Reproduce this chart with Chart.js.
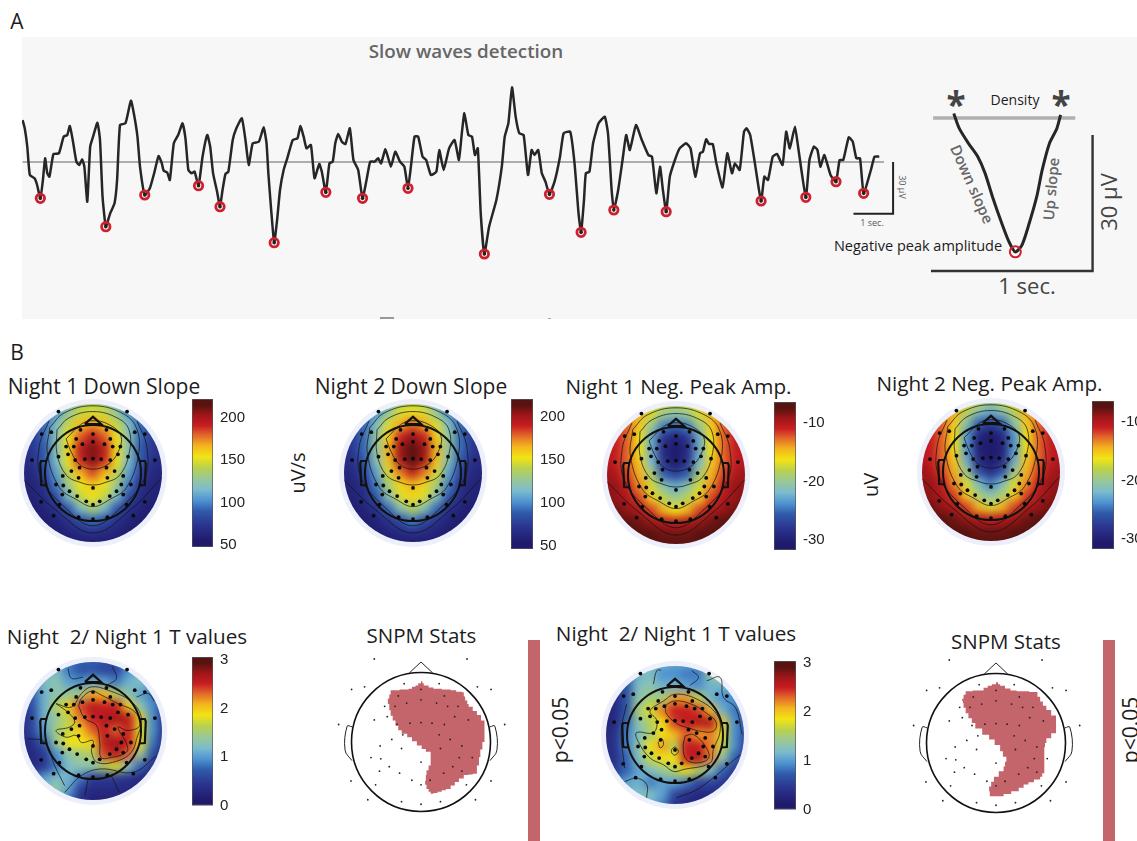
<!DOCTYPE html>
<html>
<head>
<meta charset="utf-8">
<title>Slow waves</title>
<script src="https://cdn.jsdelivr.net/npm/chart.js@4"></script>
<style>
  html, body { margin: 0; padding: 0; background: #fff; }
  body { position: relative; width: 1137px; height: 841px; overflow: hidden; }
  canvas { position: absolute; display: block; }
  .t { position: absolute; white-space: pre; line-height: 1; font-family: "Open Sans", sans-serif; color: #1c1c1c; transform: translate(-50%, -50%); }
  .round { position: absolute; border-radius: 50%; overflow: hidden; }
</style>
</head>
<body>
<div style="position:absolute;left:22px;top:37px;width:1115px;height:282px;background:#f7f7f7"></div>
<div style="position:absolute;left:380px;top:317px;width:14px;height:2px;background:#999"></div>
<div style="position:absolute;left:548px;top:318px;width:3px;height:1px;background:#aaa"></div>

<div class="t" style="left:17px;top:21px;font-size:21px">A</div>
<div class="t" style="left:17px;top:352px;font-size:21px">B</div>
<div class="t" style="left:466px;top:51px;font-size:18.8px;font-weight:600;color:#666">Slow waves detection</div>
<div class="t" style="left:1015px;top:100px;font-size:14px">Density</div>
<div class="t" style="left:918px;top:246px;font-size:14.5px">Negative peak amplitude</div>
<div class="t" style="left:956px;top:103px;font-size:35px;font-weight:700;color:#444">*</div>
<div class="t" style="left:1061px;top:103px;font-size:35px;font-weight:700;color:#444">*</div>
<div class="t" style="left:972px;top:184px;font-size:15px;font-weight:600;color:#666;transform:translate(-50%,-50%) rotate(66deg)">Down slope</div>
<div class="t" style="left:1051px;top:189px;font-size:15px;font-weight:600;color:#666;transform:translate(-50%,-50%) rotate(-85deg)">Up slope</div>
<div class="t" style="left:1108px;top:202px;font-size:22px;color:#444;transform:translate(-50%,-50%) rotate(-90deg)">30 µV</div>
<div class="t" style="left:1027px;top:285px;font-size:22px;color:#444">1 sec.</div>
<div class="t" style="left:872px;top:222px;font-size:9px;color:#555">1 sec.</div>
<div class="t" style="left:902px;top:187px;font-size:9px;color:#555;transform:translate(-50%,-50%) rotate(90deg)">30 µV</div>

<div class="t" style="left:104px;top:386px;font-size:21px">Night 1 Down Slope</div>
<div class="t" style="left:411px;top:386px;font-size:21px">Night 2 Down Slope</div>
<div class="t" style="left:678.5px;top:386px;font-size:20.7px">Night 1 Neg. Peak Amp.</div>
<div class="t" style="left:989.5px;top:383px;font-size:20.7px">Night 2 Neg. Peak Amp.</div>
<div class="t" style="left:127px;top:636px;font-size:20.7px">Night  2/ Night 1 T values</div>
<div class="t" style="left:421.5px;top:635px;font-size:20.5px">SNPM Stats</div>
<div class="t" style="left:676px;top:633px;font-size:20.7px">Night  2/ Night 1 T values</div>
<div class="t" style="left:1006px;top:641px;font-size:20.5px">SNPM Stats</div>
<div class="t" style="left:298px;top:473px;font-size:20px;transform:translate(-50%,-50%) rotate(-90deg)">uV/s</div>
<div class="t" style="left:871px;top:485px;font-size:20px;transform:translate(-50%,-50%) rotate(-90deg)">uV</div>
<div class="t" style="left:560px;top:730px;font-size:21px;transform:translate(-50%,-50%) rotate(-90deg)">p&lt;0.05</div>
<div class="t" style="left:1130px;top:730px;font-size:21px;transform:translate(-50%,-50%) rotate(-90deg)">p&lt;0.05</div>

<script>
// EEG trace: samples (99 per second) and amplitude in uV
const eegTimes = [62,68,75,82,95,102,111,118,124,130,136,147,162,175,185,192,200,210,218,226,232,240,248,256,268,275,282,291,303,315,322,330,345,360,368,378,385,398,412,425,436,445,450,460,467,478,490,502,510,518,527,535,546,557,570,578,586,597,605,612,620,628,640,650,665,675,684,695,712,725,733,738,745,754,762,770,780,790,805,818,826,835,843,855,865,878,885,896,906,915,922,930,940,950,962,972,985,997,1008,1018,1030,1040,1048,1060,1075,1087,1100,1112,1122,1130,1140,1150,1162,1172,1185,1200,1208,1220,1235,1250,1262,1270,1277,1288,1298,1306,1314,1322,1332,1345,1365,1380,1388,1398,1408,1418,1428,1440,1452,1462,1470,1480,1490,1500,1511,1525,1540,1550,1568,1580,1591,1598,1606,1611,1621,1631,1646,1663,1672,1682,1688,1700,1712,1722,1732,1749,1765,1783,1793,1805,1815,1823,1832,1842,1856,1869,1887,1899,1912,1925,1933,1942,1950,1960,1970,1987,2000,2013,2021,2034,2046,2053,2063,2076,2093,2102,2112,2125,2137,2152,2162,2172,2186,2196,2216,2226,2238,2248,2256,2267,2284,2299,2309,2319,2334,2345,2355,2365,2375,2395,2405,2418];
const eegAmps = [25.2,20.2,9.2,-7.8,-9.8,-13.8,-21.8,-10.8,2.2,-6.8,-8.8,4.8,5.2,15.2,16.2,21.6,13.2,0.2,-1.8,1.6,-2.8,-23.8,9.2,15.2,23.6,13.2,-20.8,-38.8,-30.8,-24.8,-10.8,22.2,23.2,36.8,29.2,15.2,-2.8,-19.8,-15.8,-5.8,3.6,-0.8,-5.2,-6.4,-10.8,11.2,16.2,23.2,14.2,-4.8,-6.8,-5.8,-14.2,3.2,16.2,9.2,-6.8,-17.8,-26.8,-16.8,-7.2,-5.8,13.2,20.2,26.2,13.2,-1.8,11.2,12.2,20.8,11.2,-6.8,-26.8,-48.4,-34.8,-16.8,-4.8,2.2,13.2,14.2,21.6,15.2,8.2,10.2,-9.8,-1.2,-5.8,-18.2,-0.8,0.2,11.2,16.8,12.2,10.8,20.2,1.2,-4.8,-21.8,-10.8,0.2,0.2,2.2,-0.8,7.6,-2.8,6.2,0.2,-2.8,-15.8,-2.8,15.2,15.2,3.2,1.2,-7.8,-5.8,7.2,-4.8,8.2,13.2,1.2,17.2,29.2,16.2,15.2,4.2,8.2,-30.8,-55.2,-38.8,-22.8,-2.8,15.2,23.2,44.8,27.2,17.2,16.2,-7.8,7.2,4.2,7.2,-6.8,-11.8,-19.4,-11.8,3.2,17.2,18.2,-0.8,-30.8,-42.2,-22.8,-6.8,-5.8,11.2,23.2,27.2,17.2,-16.8,-28.8,-16.8,1.2,16.2,7.2,22.2,13.2,4.2,3.2,-18.8,-2.8,-16.8,-29.8,-8.8,1.2,8.2,11.2,8.2,-8.8,5.2,6.2,13.6,10.8,10.8,-0.8,-15.2,5.2,-6.8,-0.8,-4.8,18.2,20.2,16.2,-0.8,-23.4,-8.8,-10.8,3.2,4.8,-1.8,18.2,8.2,21.2,7.2,-21.2,1.2,9.2,7.2,-2.8,4.2,-7.8,-11.8,1.2,1.2,14.8,12.2,2.2,2.2,-18.8,-4.8,3.2,3.2];
const peakTimes = [111,291,398,546,605,754,896,997,1122,1332,1511,1598,1688,1832,2093,2216,2299,2375];
const peakAmps = [-21.8,-38.8,-19.8,-14.2,-26.8,-48.4,-18.2,-21.8,-15.8,-55.2,-19.4,-42.2,-28.8,-29.8,-23.4,-21.2,-11.8,-18.8];

// single averaged wave on the right: seconds and uV
const waveSec = [0.178,0.212,0.269,0.326,0.372,0.418,0.475,0.520,0.559,0.600,0.645,0.691,0.725,0.770,0.816,0.839];
const waveUv = [1.0,-2.3,-5.6,-8.5,-12.2,-17.4,-23.2,-27.3,-29.5,-28.0,-23.2,-17.4,-11.5,-5.6,-2.3,0.7];

// colour scale
const jetStops = [[0,"#1f1a6b"],[0.12,"#2b3590"],[0.22,"#2f5bab"],[0.3,"#4f94d2"],[0.38,"#7cbccd"],[0.46,"#99c896"],[0.54,"#b9d14e"],[0.62,"#f2e414"],[0.7,"#f3b41e"],[0.78,"#e2652a"],[0.85,"#c71d22"],[0.93,"#9c1518"],[1,"#561310"]];

// scalp grid, percent of head radius
const gridX = [-150,-125,-100,-75,-50,-25,0,25,50,75,100,125,150];
const gridY = [150,125,100,75,50,25,0,-25,-50,-75,-100,-125,-150];

const night1Down = [
  [60,60,70,85,110,130,135,130,110,85,70,60,60],
  [60,65,80,100,125,145,150,145,125,100,80,65,60],
  [60,70,90,115,145,165,175,165,145,115,90,70,60],
  [60,70,90,120,155,185,200,185,155,120,90,70,60],
  [60,70,85,120,160,200,215,200,160,120,85,70,60],
  [60,65,85,115,155,195,215,195,155,115,85,65,60],
  [55,60,75,105,145,170,190,170,145,105,75,60,55],
  [55,55,65,95,130,155,165,155,130,95,65,55,55],
  [50,55,60,80,115,145,155,145,115,80,60,55,50],
  [50,50,55,65,85,115,135,115,85,65,55,50,50],
  [50,50,50,55,65,80,90,80,65,55,50,50,50],
  [50,50,50,50,55,60,65,60,55,50,50,50,50],
  [50,50,50,50,50,50,50,50,50,50,50,50,50]
];
const night2Down = [
  [60,60,70,85,110,130,140,130,110,85,70,60,60],
  [60,65,80,100,125,150,155,150,125,100,80,65,60],
  [60,70,90,115,150,170,185,170,150,115,90,70,60],
  [60,70,90,125,160,195,210,195,160,125,90,70,60],
  [60,70,90,125,170,210,222,210,170,125,90,70,60],
  [60,65,85,120,165,205,222,205,165,120,85,65,60],
  [55,60,75,105,150,180,200,180,150,105,75,60,55],
  [55,55,65,95,135,160,170,160,135,95,65,55,55],
  [50,55,60,85,120,150,160,150,120,85,60,55,50],
  [50,50,55,65,90,120,140,120,90,65,55,50,50],
  [50,50,50,55,65,80,95,80,65,55,50,50,50],
  [50,50,50,50,55,60,65,60,55,50,50,50,50],
  [50,50,50,50,50,50,50,50,50,50,50,50,50]
];
const night1Neg = [
  [-9,-9,-11,-13,-15,-17,-18,-17,-15,-13,-11,-9,-9],
  [-9,-10,-12,-14,-17,-20,-21,-20,-17,-14,-12,-10,-9],
  [-9,-10,-12,-15,-20,-25,-26,-25,-20,-15,-12,-10,-9],
  [-9,-10,-12,-16,-23,-29,-31,-29,-23,-16,-12,-10,-9],
  [-9,-10,-12,-16,-23,-30,-32,-30,-23,-16,-12,-10,-9],
  [-9,-10,-12,-15,-22,-29,-32,-29,-22,-15,-12,-10,-9],
  [-8,-9,-11,-14,-19,-26,-28,-26,-19,-14,-11,-9,-8],
  [-8,-8,-10,-13,-17,-21,-23,-21,-17,-13,-10,-8,-8],
  [-7,-8,-9,-11,-15,-18,-20,-18,-15,-11,-9,-8,-7],
  [-7,-7,-8,-9,-11,-14,-16,-14,-11,-9,-8,-7,-7],
  [-6,-6,-6,-7,-8,-9,-10,-9,-8,-7,-6,-6,-6],
  [-6,-6,-6,-6,-6,-7,-7,-7,-6,-6,-6,-6,-6],
  [-6,-6,-6,-6,-6,-6,-6,-6,-6,-6,-6,-6,-6]
];
const night2Neg = [
  [-9,-9,-11,-13,-15,-17,-19,-17,-15,-13,-11,-9,-9],
  [-9,-10,-12,-14,-18,-21,-23,-21,-18,-14,-12,-10,-9],
  [-9,-10,-12,-15,-21,-26,-28,-26,-21,-15,-12,-10,-9],
  [-9,-10,-12,-16,-24,-30,-32,-30,-24,-16,-12,-10,-9],
  [-9,-10,-12,-16,-24,-31,-33,-31,-24,-16,-12,-10,-9],
  [-9,-10,-12,-15,-23,-30,-33,-30,-23,-15,-12,-10,-9],
  [-8,-9,-11,-14,-20,-27,-30,-27,-20,-14,-11,-9,-8],
  [-8,-8,-10,-13,-17,-22,-25,-22,-17,-13,-10,-8,-8],
  [-7,-8,-9,-11,-15,-19,-21,-19,-15,-11,-9,-8,-7],
  [-7,-7,-8,-9,-11,-14,-17,-14,-11,-9,-8,-7,-7],
  [-6,-6,-6,-7,-8,-9,-10,-9,-8,-7,-6,-6,-6],
  [-6,-6,-6,-6,-6,-7,-7,-7,-6,-6,-6,-6,-6],
  [-6,-6,-6,-6,-6,-6,-6,-6,-6,-6,-6,-6,-6]
];
const tValuesA = [
  [0.6,0.6,0.7,1,0.8,0.7,0.7,0.6,0.6,0.8,1,0.9,0.7],
  [0.5,0.6,1,1.2,0.8,0.6,0.6,0.5,0.5,0.9,1.2,1.1,0.7],
  [0.4,0.8,1.2,1.3,1,0.9,1.1,1,0.8,1.1,1.2,1,0.6],
  [0.2,0.7,1.1,1.3,1.4,1.5,2.2,2.1,1.6,1.3,1,0.8,0.4],
  [0.2,0.6,1.1,1.6,2,2.5,2.7,2.6,2.6,2,1.3,0.9,0.3],
  [0.2,0.5,1.1,1.4,1.7,2.3,2.6,2.7,2.8,2.7,2,0.9,0.3],
  [0.2,0.5,1,1.5,1.7,2,2.4,2.6,2.4,2.6,1.8,0.9,0.3],
  [0.1,0.3,0.7,1.4,1.9,1.9,2,2.7,2.8,2.6,1.9,0.8,0.2],
  [0.1,0.2,0.4,0.9,1.3,1.5,1.6,2.5,2.7,2.4,1.4,0.6,0.1],
  [0.1,0.2,0.4,0.8,1.2,1.3,1.3,1.6,1.8,1.2,0.7,0.3,0.1],
  [0.1,0.6,1,1.2,1.1,0.8,0.4,0.4,0.4,0.3,0.2,0.1,0.1],
  [0.1,0.5,1.2,1.4,1,0.4,0.2,0.2,0.2,0.2,0.1,0.1,0.1],
  [0.1,0.3,0.9,1.1,0.7,0.3,0.1,0.1,0.1,0.1,0.1,0.1,0.1]
];
const tValuesB = [
  [0.2,0.5,0.8,1.1,1.2,1.1,1,1,0.9,1.4,1.6,1.3,0.9],
  [0.1,0.4,0.7,1.1,1.2,0.9,0.9,0.8,0.8,1.3,1.6,1.3,1],
  [0.1,0.2,0.6,1.2,1.3,1.1,1.1,1,0.9,1.1,1.1,1,0.8],
  [0.1,0.2,0.6,1.3,1.5,1.5,2.2,2.2,1.7,1.1,0.9,0.9,0.7],
  [0.1,0.2,0.6,1.5,1.8,2.3,2.6,2.6,2.5,2.1,1.1,0.8,0.6],
  [0.1,0.2,0.7,1.3,1.6,1.9,2.5,2.6,2.7,2.7,2,0.9,0.6],
  [0.2,0.3,0.8,1.2,1.5,1.9,2.1,2.4,2.2,2.3,1.8,0.9,0.5],
  [0.2,0.3,0.8,1.3,1.9,2.2,1.6,2.6,2.6,2.3,1.7,0.9,0.4],
  [0.2,0.3,0.7,1.2,1.7,1.9,1.9,2.6,2.7,2.3,1.3,0.7,0.3],
  [0.3,0.4,0.7,1,1.2,1.4,1.6,1.9,1.6,1.2,0.7,0.4,0.2],
  [0.4,0.7,1,1.1,0.8,1,1,0.8,0.5,0.5,0.4,0.2,0.1],
  [0.4,0.8,1.1,1.2,1.2,1,0.5,0.3,0.2,0.2,0.2,0.1,0.1],
  [0.4,0.7,1,1.2,1.1,0.8,0.3,0.2,0.1,0.1,0.1,0.1,0.1]
];

// electrode layout, percent of head radius
const electrodeX = [-72,71,-107,-87,87,108,-127,129,-26,0,28,-35,36,0,-22,24,-40,41,-56,57,-52,52,-72,73,-17,0,17,-37,36,-28,28,-45,45,-63,63,-30,30,0,-77,-62,59,79,-49,49,-64,63,-33,35,-14,14,0,-108,108,-70,70,-82,84,-30,30,0];
const electrodeY = [128,128,81,85,85,81,27,27,90,81,90,71,71,65,60,60,55,55,55,55,39,39,34,34,29,30,29,27,27,11,11,4,4,-6,-6,-10,-10,-31,-24,-26,-24,-24,-38,-38,-45,-45,-48,-48,-59,-59,-66,-60,-60,-66,-66,-89,-89,-92,-92,-96];

// contour lines [x, y]
const frontContours = [
  [[-56,71],[-24,102],[0,109],[31,102],[58,78],[52,43],[31,18],[0,8],[-28,18],[-45,43],[-56,71]],
  [[-75,90],[-50,115],[0,128],[50,115],[75,90],[75,40],[55,-5],[25,-20],[0,-25],[-25,-20],[-55,-5],[-75,40],[-75,90]],
  [[-90,95],[-60,125],[0,140],[60,125],[90,95],[95,40],[70,-30],[35,-55],[0,-70],[-35,-55],[-70,-30],[-95,40],[-90,95]],
  [[-92,108],[-112,55],[-108,-10],[-60,-70],[0,-110],[60,-70],[108,-10],[112,55],[92,108]],
  [[-143,-15],[-80,-75],[0,-125],[80,-75],[143,-10]]
];
const tContoursA = [
  [[-30,52],[-24,68],[-3,83],[17,75],[52,57],[87,40],[98,12],[73,1],[52,8],[70,-27],[70,-44],[38,-55],[17,-55],[14,-23],[7,12],[-17,26],[-30,52]],
  [[-77,57],[-45,50],[-24,78],[-3,92],[31,85],[80,61],[101,26],[91,-16],[80,-44],[52,-62],[10,-66],[-3,-44],[0,-20],[-24,-24],[-35,-9],[-56,-13],[-77,1],[-49,8],[-38,19],[-49,36],[-77,57]],
  [[-52,130],[-45,110],[-21,112]],
  [[40,134],[49,110],[31,96]],
  [[91,71],[115,78],[128,62]],
  [[-136,-16],[-101,-23],[-80,-72],[-59,-114]],
  [[-59,-128],[-24,-93],[17,-79],[84,-86],[132,-52]],
  [[-10,-100],[-17,-135]],
  [[38,-93],[55,-128]]
];
const tContoursB = [
  [[-21,61],[0,71],[35,64],[66,45],[86,26],[80,8],[52,8],[28,15],[7,22],[-17,43],[-21,61]],
  [[21,-2],[38,1],[63,-23],[70,-48],[45,-58],[24,-51],[17,-27],[21,-2]],
  [[-24,71],[0,85],[45,75],[87,43],[94,8],[80,-30],[73,-58],[17,-72],[-3,-76],[-24,-62],[-52,-48],[-77,-13],[-80,5],[-45,5],[-38,30],[-52,50],[-24,71]],
  [[-35,-16],[-28,-7],[-24,-20],[-31,-27],[-35,-16]],
  [[-7,-30],[0,-25],[7,-34],[0,-42],[-7,-37],[-7,-30]],
  [[-45,106],[-38,134],[-29,135]],
  [[35,134],[49,120],[31,103]],
  [[66,113],[94,120],[101,78],[126,57],[140,1]],
  [[-101,64],[-112,8],[-105,-69]],
  [[-105,-97],[-80,-90],[-59,-103],[-59,-131]],
  [[3,-131],[52,-110],[136,-41]]
];

// significant clusters
const clusterA = [[0,88],[2,85],[4,82],[11,79],[18,77],[30,76],[43,75],[51,73],[59,72],[62,66],[64,60],[67,55],[69,51],[75,45],[81,39],[87,31],[92,23],[92,12],[92,0],[89,-11],[86,-22],[84,-34],[81,-46],[75,-47],[69,-48],[62,-53],[55,-58],[49,-63],[43,-68],[36,-70],[30,-72],[24,-74],[18,-75],[14,-72],[11,-68],[8,-62],[6,-56],[7,-48],[8,-41],[11,-34],[14,-27],[14,-20],[14,-14],[7,-10],[1,-5],[-6,1],[-13,7],[-20,12],[-28,17],[-33,24],[-37,31],[-41,38],[-44,46],[-46,55],[-48,63],[-46,69],[-44,75],[-31,76],[-18,77],[-13,80],[-8,82],[-4,85],[0,88]];
const clusterB = [[0,88],[3,85],[6,83],[13,79],[21,76],[30,75],[40,75],[48,74],[57,74],[60,67],[64,60],[68,54],[73,48],[80,40],[87,33],[87,23],[87,14],[80,7],[73,0],[71,-6],[70,-12],[70,-22],[70,-33],[70,-44],[67,-49],[64,-53],[55,-57],[47,-60],[40,-65],[33,-70],[22,-74],[11,-77],[2,-77],[-7,-77],[-9,-70],[-10,-63],[-7,-56],[-3,-49],[4,-41],[11,-34],[13,-27],[15,-20],[10,-12],[6,-3],[-2,5],[-10,12],[-20,21],[-30,29],[-35,36],[-40,43],[-44,51],[-47,58],[-48,61],[-49,64],[-47,70],[-44,75],[-34,76],[-23,76],[-18,80],[-12,83],[-6,85],[0,88]];

// head outline pieces
const noseLine = [[-17,102],[0,117],[17,102],[-17,102]];
const earLeft = [[-96,25],[-108,25],[-110,20],[-108,-25],[-96,-26]];
const earRight = [[96,25],[108,25],[110,20],[108,-25],[96,-26]];
const noseThin = [[-17,100],[0,116],[17,100]];
const earThinLeft = [[-100,22],[-107,23],[-110,-12],[-100,-27]];
const earThinRight = [[100,22],[107,23],[110,-12],[100,-27]];

const baseOptions = {
  responsive: false,
  animation: false,
  devicePixelRatio: 1,
  events: [],
  layout: { autoPadding: false },
  plugins: { legend: { display: false }, tooltip: { enabled: false } }
};

function addCanvas(left, top, w, h, parent) {
  const c = document.createElement("canvas");
  c.width = w;
  c.height = h;
  c.style.left = left + "px";
  c.style.top = top + "px";
  c.style.width = w + "px";
  c.style.height = h + "px";
  (parent || document.body).appendChild(c);
  return c;
}

function pairs(list) {
  return list.map(p => ({ x: p[0], y: p[1] }));
}

function hexToRgb(h) {
  return [parseInt(h.slice(1, 3), 16), parseInt(h.slice(3, 5), 16), parseInt(h.slice(5, 7), 16)];
}

function jetColor(v, min, max) {
  const t = Math.min(1, Math.max(0, (v - min) / (max - min)));
  for (let i = 1; i < jetStops.length; i++) {
    if (t <= jetStops[i][0]) {
      const a = jetStops[i - 1], b = jetStops[i];
      const f = (t - a[0]) / (b[0] - a[0]);
      const ca = hexToRgb(a[1]), cb = hexToRgb(b[1]);
      return "rgb(" + ca.map((c, k) => Math.round(c + (cb[k] - c) * f)).join(",") + ")";
    }
  }
  return jetStops[jetStops.length - 1][1];
}

function hiddenAxes(xMin, xMax, yMin, yMax) {
  return {
    x: { type: "linear", display: false, min: xMin, max: xMax },
    y: { type: "linear", display: false, min: yMin, max: yMax }
  };
}

function lineSet(data, color, width, extra) {
  return Object.assign({
    type: "scatter", data: data, showLine: true, borderColor: color, borderWidth: width,
    pointRadius: 0, fill: false, clip: false
  }, extra || {});
}

// Panel A: trace with detected troughs
function drawTrace() {
  const c = addCanvas(22, 37, 1115, 282);
  c.style.filter = "blur(0.5px)";
  const trace = eegTimes.map((t, i) => ({ x: t, y: eegAmps[i] }));
  const peaks = peakTimes.map((t, i) => ({ x: t, y: peakAmps[i] }));
  new Chart(c, {
    type: "scatter",
    data: { datasets: [
      { data: peaks, pointRadius: 1.8, pointBackgroundColor: "#222", pointBorderWidth: 0 },
      { data: peaks, pointRadius: 4.2, pointBackgroundColor: "rgba(0,0,0,0)", pointBorderColor: "#d01f2c", pointBorderWidth: 2.8 },
      lineSet(trace, "#262626", 2.5, { tension: 0.15 }),
      lineSet([{ x: 62, y: 0 }, { x: 2431, y: 0 }], "#adadad", 2),
      lineSet([{ x: 2347, y: -31 }, { x: 2456, y: -31 }, { x: 2456, y: 0 }], "#222", 2)
    ] },
    options: Object.assign({}, baseOptions, { scales: hiddenAxes(60.5, 3126.75, -94.2, 75) })
  });
}

// Panel A: the single wave
function drawWave() {
  const c = addCanvas(925, 100, 175, 180);
  c.style.filter = "blur(0.5px)";
  const wave = waveSec.map((t, i) => ({ x: t, y: waveUv[i] }));
  new Chart(c, {
    type: "scatter",
    data: { datasets: [
      { data: [{ x: 0.559, y: -29.5 }], pointRadius: 5.5, pointBackgroundColor: "rgba(0,0,0,0)", pointBorderColor: "#d01f2c", pointBorderWidth: 2, clip: false },
      lineSet(wave, "#262626", 3, { tension: 0.25 }),
      lineSet([{ x: 0.05, y: 0 }, { x: 0.93, y: 0 }], "#b0b0b0", 3.5),
      lineSet([{ x: 0.037, y: -33.7 }, { x: 1.037, y: -33.7 }, { x: 1.037, y: -3.75 }], "#333", 2.4)
    ] },
    options: Object.assign({}, baseOptions, { scales: hiddenAxes(0, 1.083, -35.7, 3.97) })
  });
}

function drawColorbar(left, top, barW, barH, yMin, yMax, ticks) {
  const pad = 10;
  const inset = 6; // the axis keeps this much extra room for its labels
  const c = addCanvas(left, top - pad - inset, barW + 40, barH + (pad + inset) * 2);
  new Chart(c, {
    type: "bar",
    data: { labels: [""], datasets: [{
      data: [[yMin, yMax]],
      barPercentage: 1,
      categoryPercentage: 1,
      borderWidth: 1,
      borderSkipped: false,
      borderColor: "#555",
      backgroundColor(ctx) {
        const area = ctx.chart.chartArea;
        if (!area) return "#888";
        const g = ctx.chart.ctx.createLinearGradient(0, area.bottom - inset, 0, area.top + inset);
        jetStops.forEach(s => g.addColorStop(s[0], s[1]));
        return g;
      }
    }] },
    options: Object.assign({}, baseOptions, {
      layout: { autoPadding: false, padding: { top: pad, bottom: pad, left: 0, right: 0 } },
      scales: {
        x: { display: false },
        y: {
          position: "right", min: yMin, max: yMax,
          grid: { drawOnChartArea: false, drawTicks: false },
          border: { display: false },
          afterBuildTicks(axis) { axis.ticks = ticks.map(v => ({ value: v })); },
          afterFit(axis) { axis.width = 40; },
          ticks: { padding: 7, autoSkip: false, color: "#222", font: { family: "Liberation Sans", size: 15 } }
        }
      }
    })
  });
}

function drawPinkBar(left) {
  const c = addCanvas(left, 640, 12, 201);
  new Chart(c, {
    type: "bar",
    data: { labels: ["p<0.05"], datasets: [{ data: [[0, 1]], barPercentage: 1, categoryPercentage: 1, backgroundColor: "#c4656b" }] },
    options: Object.assign({}, baseOptions, { scales: {
      x: { display: false },
      y: { display: false, min: 0, max: 1 }
    } })
  });
}

function electrodePoints(scale) {
  return electrodeX.map((x, i) => ({ x: x * scale, y: electrodeY[i] * scale }));
}

// blurred colour cells clipped to a disc, with head and contours above
function drawMap(cx, cy, rows, yMin, yMax, contours) {
  const halo = document.createElement("div");
  halo.className = "round";
  halo.style.cssText = "left:" + (cx - 74) + "px;top:" + (cy - 74) + "px;width:148px;height:148px;background:#edf0fb";
  document.body.appendChild(halo);

  const disc = document.createElement("div");
  disc.className = "round";
  disc.style.cssText = "left:" + (cx - 69) + "px;top:" + (cy - 69) + "px;width:138px;height:138px";
  document.body.appendChild(disc);

  const cells = [];
  const colors = [];
  gridY.forEach((y, r) => gridX.forEach((x, k) => {
    cells.push({ x: x, y: y });
    colors.push(jetColor(rows[r][k], yMin, yMax));
  }));
  const half = 84;
  const range = half / 0.48;
  const heat = addCanvas(69 - half, 69 - half, half * 2, half * 2, disc);
  heat.style.filter = "blur(4.5px)";
  new Chart(heat, {
    type: "scatter",
    data: { datasets: [{ data: cells, pointStyle: "rect", pointRadius: 9.5, pointBorderWidth: 0, pointBackgroundColor: colors }] },
    options: Object.assign({}, baseOptions, { scales: hiddenAxes(-range, range, -range, range) })
  });

  const top = addCanvas(cx - half, cy - half, half * 2, half * 2);
  const sets = [
    { data: electrodePoints(1), pointRadius: 1.9, pointBackgroundColor: "#0a0a0a", pointBorderWidth: 0, clip: false },
    { data: [{ x: 0, y: 0 }], pointRadius: 48, pointBackgroundColor: "rgba(0,0,0,0)", pointBorderColor: "#111", pointBorderWidth: 2, clip: false },
    lineSet(pairs(noseLine), "#111", 2.2),
    lineSet(pairs(earLeft), "#111", 2.2),
    lineSet(pairs(earRight), "#111", 2.2)
  ];
  contours.forEach(k => sets.push(lineSet(pairs(k), "rgba(20,20,20,0.8)", 0.9, { tension: 0.4 })));
  new Chart(top, {
    type: "scatter",
    data: { datasets: sets },
    options: Object.assign({}, baseOptions, { scales: hiddenAxes(-range, range, -range, range) })
  });
}

// thresholded head plot
function drawCluster(cx, cy, cluster) {
  const half = 100;
  const range = half / 0.69;
  const c = addCanvas(cx - half, cy - half, half * 2, half * 2);
  new Chart(c, {
    type: "scatter",
    data: { datasets: [
      { data: electrodePoints(0.94), pointRadius: 0.9, pointBackgroundColor: "#222", pointBorderWidth: 0, clip: false },
      { data: [{ x: 0, y: 0 }], pointRadius: 69.5, pointBackgroundColor: "rgba(0,0,0,0)", pointBorderColor: "#111", pointBorderWidth: 1.6, clip: false },
      lineSet(pairs(noseThin), "#222", 1),
      lineSet(pairs(earThinLeft), "#222", 1, { tension: 0.4 }),
      lineSet(pairs(earThinRight), "#222", 1, { tension: 0.4 }),
      lineSet(pairs(cluster), "#c4656b", 0, { fill: "shape", backgroundColor: "#c4656b", stepped: true })
    ] },
    options: Object.assign({}, baseOptions, { scales: hiddenAxes(-range, range, -range, range) })
  });
}

drawTrace();
drawWave();

drawMap(92.5, 473, night1Down, 47.6, 222, frontContours);
drawMap(412.5, 473, night2Down, 47.6, 222, frontContours);
drawMap(675.5, 475, night1Neg, -31.7, -6.4, frontContours);
drawMap(991, 472, night2Neg, -31.7, -6.4, frontContours);
drawMap(92.5, 731, tValuesA, 0, 3.06, tContoursA);
drawMap(675, 734.5, tValuesB, 0, 3.04, tContoursB);

drawColorbar(192, 399, 21, 148, 47.6, 222, [200, 150, 100, 50]);
drawColorbar(511, 399, 22, 150, 46.5, 221, [200, 150, 100, 50]);
drawColorbar(774, 402, 22, 148, -31.7, -6.4, [-10, -20, -30]);
drawColorbar(1092, 401, 22, 148, -31.7, -6.4, [-10, -20, -30]);
drawColorbar(192, 657, 21, 149, 0, 3.06, [3, 2, 1, 0]);
drawColorbar(774, 661, 22, 149, 0, 3.04, [3, 2, 1, 0]);

drawCluster(420.7, 741.7, clusterA);
drawCluster(995.7, 743, clusterB);
drawPinkBar(528);
drawPinkBar(1103);
</script>
</body>
</html>
